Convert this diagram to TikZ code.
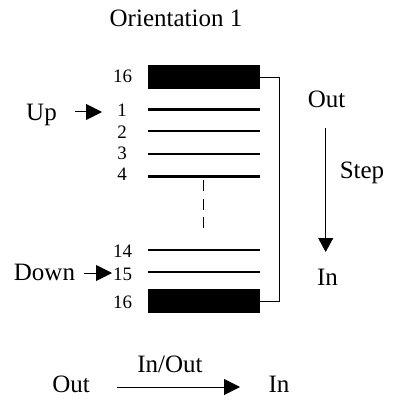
\documentclass[tikz,border=0pt]{standalone}
\usepackage{fontspec}
\setmainfont{Liberation Serif}
\usetikzlibrary{arrows.meta}
\begin{document}
\begin{tikzpicture}[x=1pt,y=-1pt,
  big/.style={font=\fontsize{25}{30}\selectfont, inner sep=0pt, anchor=base},
  num/.style={font=\fontsize{19}{23}\selectfont, inner sep=0pt, anchor=base},
  bar/.style={fill=black, draw=none, minimum width=112pt, minimum height=24pt, inner sep=0pt},
  slot/.style={line width=2.7pt},
  thin/.style={line width=0.9pt},
  bigarrow/.style={line width=1pt, -{Triangle[length=16pt,width=16pt]}},
  steparrow/.style={line width=0.9pt, -{Triangle[length=14pt,width=15pt]}}]
\useasboundingbox (0,0) rectangle (392,401);
% title
\node[big] (title) at (176,27) {Orientation 1};
% bars
\node[bar] (bt) at (204,77) {};
\node[bar] (bb) at (204,301) {};
% slot lines
\foreach \n/\y in {l1/109.3,l2/131,l3/154,l4/176.7,l14/250,l15/272}{
  \coordinate (\n w) at (148,\y);
  \coordinate (\n e) at (260,\y);
  \draw[slot] (\n w) -- (\n e);
}
% numbers
\node[num] (n16t) at (122.5,83) {16};
\node[num] (n1) at (122,116.5) {1};
\node[num] (n2) at (122,138) {2};
\node[num] (n3) at (122,159.5) {3};
\node[num] (n4) at (122,180.5) {4};
\node[num] (n14) at (122.5,257) {14};
\node[num] (n15) at (122.5,280) {15};
\node[num] (n16b) at (122.5,308) {16};
% dashed ellipsis
\coordinate (dt) at (203.3,180);
\coordinate (db) at (203.3,228);
\draw[thin, dash pattern=on 11pt off 7.5pt] (dt) -- (db);
% bracket
\draw[thin] (bt.east) -- ++(19,0) |- (bb.east);
% Up / Down
\node[big] (up) at (41.5,120.5) {Up};
\coordinate (upa) at (75,112);
\coordinate (upb) at (102,112);
\draw[bigarrow] (upa) -- (upb);
\node[big] (down) at (44.5,280) {Down};
\coordinate (dna) at (84,273);
\coordinate (dnb) at (112,273);
\draw[bigarrow] (dna) -- (dnb);
% right side
\node[big] (outr) at (326.5,107) {Out};
\node[big] (stepl) at (362,178) {Step};
\node[big] (inr) at (327.5,285) {In};
\coordinate (sa) at (325.7,128);
\coordinate (sb) at (325.7,252);
\draw[steparrow] (sa) -- (sb);
% bottom legend
\node[big] (outb) at (71,392) {Out};
\node[big] (inout) at (170,372) {In/Out};
\node[big] (inb) at (279,392) {In};
\coordinate (la) at (117,387);
\coordinate (lb) at (240,387);
\draw[bigarrow] (la) -- (lb);
\end{tikzpicture}
\end{document}
